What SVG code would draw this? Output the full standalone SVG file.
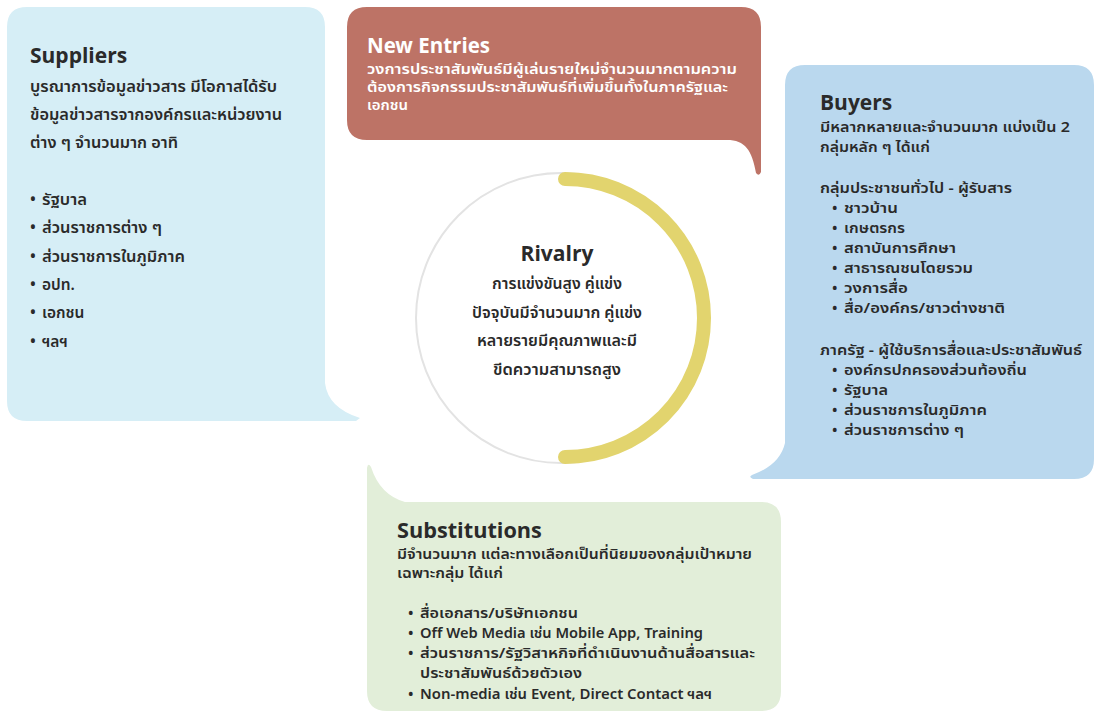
<svg xmlns="http://www.w3.org/2000/svg" width="1094" height="711" viewBox="0 0 1094 711">
<style>
text{font-family:"Noto Sans Thai","Noto Sans","DejaVu Sans",sans-serif;fill:#2a2a2a;font-weight:600}
.t{font-size:21px;font-weight:700}
.b{font-size:15.5px}
.s{font-size:14.5px}
.w{fill:#ffffff}
.c{text-anchor:middle}
</style>
<rect width="1094" height="711" fill="#ffffff"/>
<g id="suppliers">
<path d="M27,7 H305 Q325,7 325,27 V383 Q328,408 360,418 L356,421 H27 Q7,421 7,401 V27 Q7,7 27,7 Z" fill="#d6eef6"/>
<text class="t" x="30" y="63">Suppliers</text>
<text class="b" x="30" y="92" textLength="247" lengthAdjust="spacingAndGlyphs">บูรณาการข้อมูลข่าวสาร มีโอกาสได้รับ</text>
<text class="b" x="30" y="120" textLength="252" lengthAdjust="spacingAndGlyphs">ข้อมูลข่าวสารจากองค์กรและหน่วยงาน</text>
<text class="b" x="30" y="148" textLength="148" lengthAdjust="spacingAndGlyphs">ต่าง ๆ จำนวนมาก อาทิ</text>
<text class="b" x="30" y="205">•</text><text class="b" x="42" y="205" textLength="45" lengthAdjust="spacingAndGlyphs">รัฐบาล</text>
<text class="b" x="30" y="233">•</text><text class="b" x="42" y="233" textLength="120" lengthAdjust="spacingAndGlyphs">ส่วนราชการต่าง ๆ</text>
<text class="b" x="30" y="262">•</text><text class="b" x="42" y="262" textLength="143" lengthAdjust="spacingAndGlyphs">ส่วนราชการในภูมิภาค</text>
<text class="b" x="30" y="290">•</text><text class="b" x="42" y="290">อปท.</text>
<text class="b" x="30" y="318">•</text><text class="b" x="42" y="318">เอกชน</text>
<text class="b" x="30" y="347">•</text><text class="b" x="42" y="347">ฯลฯ</text>
</g>
<g id="new-entries">
<path d="M367,7 H741 Q761,7 761,27 V172 Q759,177 756,173 C752,150 745,140 727,140 H367 Q347,140 347,120 V27 Q347,7 367,7 Z" fill="#bd7366"/>
<text class="t w" x="367" y="53" style="font-size:20.5px">New Entries</text>
<text class="s w" x="367" y="74" textLength="370" lengthAdjust="spacingAndGlyphs">วงการประชาสัมพันธ์มีผู้เล่นรายใหม่จำนวนมากตามความ</text>
<text class="s w" x="367" y="92" textLength="361" lengthAdjust="spacingAndGlyphs">ต้องการกิจกรรมประชาสัมพันธ์ที่เพิ่มขึ้นทั้งในภาครัฐและ</text>
<text class="s w" x="367" y="110" textLength="41" lengthAdjust="spacingAndGlyphs">เอกชน</text>
</g>
<g id="buyers">
<path d="M805,65 H1074 Q1094,65 1094,85 V459 Q1094,479 1074,479 H753 Q748,477 752,475 Q780,465 785,443 V85 Q785,65 805,65 Z" fill="#bad8ee"/>
<text class="t" x="820" y="110">Buyers</text>
<text class="s" x="820" y="132" textLength="250" lengthAdjust="spacingAndGlyphs">มีหลากหลายและจำนวนมาก แบ่งเป็น 2</text>
<text class="s" x="820" y="152" textLength="110" lengthAdjust="spacingAndGlyphs">กลุ่มหลัก ๆ ได้แก่</text>
<text class="s" x="820" y="193" textLength="192" lengthAdjust="spacingAndGlyphs">กลุ่มประชาชนทั่วไป - ผู้รับสาร</text>
<text class="s" x="832" y="213">•</text><text class="s" x="844" y="213" textLength="54" lengthAdjust="spacingAndGlyphs">ชาวบ้าน</text>
<text class="s" x="832" y="233">•</text><text class="s" x="844" y="233" textLength="61" lengthAdjust="spacingAndGlyphs">เกษตรกร</text>
<text class="s" x="832" y="253">•</text><text class="s" x="844" y="253" textLength="112" lengthAdjust="spacingAndGlyphs">สถาบันการศึกษา</text>
<text class="s" x="832" y="273">•</text><text class="s" x="844" y="273" textLength="129" lengthAdjust="spacingAndGlyphs">สาธารณชนโดยรวม</text>
<text class="s" x="832" y="293">•</text><text class="s" x="844" y="293" textLength="64" lengthAdjust="spacingAndGlyphs">วงการสื่อ</text>
<text class="s" x="832" y="313">•</text><text class="s" x="844" y="313" textLength="161" lengthAdjust="spacingAndGlyphs">สื่อ/องค์กร/ชาวต่างชาติ</text>
<text class="s" x="820" y="355" textLength="262" lengthAdjust="spacingAndGlyphs">ภาครัฐ - ผู้ใช้บริการสื่อและประชาสัมพันธ์</text>
<text class="s" x="832" y="375">•</text><text class="s" x="844" y="375" textLength="183" lengthAdjust="spacingAndGlyphs">องค์กรปกครองส่วนท้องถิ่น</text>
<text class="s" x="832" y="395">•</text><text class="s" x="844" y="395" textLength="44" lengthAdjust="spacingAndGlyphs">รัฐบาล</text>
<text class="s" x="832" y="415">•</text><text class="s" x="844" y="415" textLength="143" lengthAdjust="spacingAndGlyphs">ส่วนราชการในภูมิภาค</text>
<text class="s" x="832" y="435">•</text><text class="s" x="844" y="435" textLength="120" lengthAdjust="spacingAndGlyphs">ส่วนราชการต่าง ๆ</text>
</g>
<g id="substitutions">
<path d="M367,468 Q368,462 371,467 Q380,495 405,502 H761 Q781,502 781,522 V691 Q781,711 761,711 H387 Q367,711 367,691 Z" fill="#e2eed9"/>
<text class="t" x="397" y="538" style="font-size:21.7px">Substitutions</text>
<text class="s" x="397" y="559" textLength="355" lengthAdjust="spacingAndGlyphs">มีจำนวนมาก แต่ละทางเลือกเป็นที่นิยมของกลุ่มเป้าหมาย</text>
<text class="s" x="397" y="578" textLength="106" lengthAdjust="spacingAndGlyphs">เฉพาะกลุ่ม ได้แก่</text>
<text class="s" x="408" y="618">•</text><text class="s" x="420" y="618" textLength="158" lengthAdjust="spacingAndGlyphs">สื่อเอกสาร/บริษัทเอกชน</text>
<text class="s" x="408" y="638">•</text><text class="s" x="420" y="638" textLength="283" lengthAdjust="spacingAndGlyphs">Off Web Media เช่น Mobile App, Training</text>
<text class="s" x="408" y="658">•</text><text class="s" x="420" y="658" textLength="335" lengthAdjust="spacingAndGlyphs">ส่วนราชการ/รัฐวิสาหกิจที่ดำเนินงานด้านสื่อสารและ</text>
<text class="s" x="420" y="678" textLength="162" lengthAdjust="spacingAndGlyphs">ประชาสัมพันธ์ด้วยตัวเอง</text>
<text class="s" x="408" y="699">•</text><text class="s" x="420" y="699" textLength="292" lengthAdjust="spacingAndGlyphs">Non-media เช่น Event, Direct Contact ฯลฯ</text>
</g>
<g id="rivalry">
<circle cx="561" cy="318" r="145" fill="#ffffff" stroke="#e3e3e3" stroke-width="2"/>
<path d="M565,179 A139,139 0 0 1 565,457" fill="none" stroke="#e2d46e" stroke-width="14" stroke-linecap="round"/>
<text class="c" x="557" y="261" style="font-size:21px;font-weight:700">Rivalry</text>
<text class="b c" x="557" y="289" textLength="130" lengthAdjust="spacingAndGlyphs">การแข่งขันสูง คู่แข่ง</text>
<text class="b c" x="557" y="318" textLength="170" lengthAdjust="spacingAndGlyphs">ปัจจุบันมีจำนวนมาก คู่แข่ง</text>
<text class="b c" x="557" y="346" textLength="160" lengthAdjust="spacingAndGlyphs">หลายรายมีคุณภาพและมี</text>
<text class="b c" x="557" y="375" textLength="128" lengthAdjust="spacingAndGlyphs">ขีดความสามารถสูง</text>
</g>
</svg>
